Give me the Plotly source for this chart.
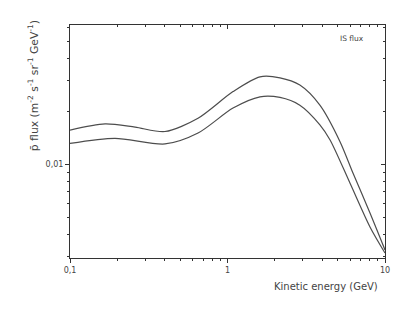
import plotly.graph_objects as go

# Data
energy_upper = [0.1, 0.167, 0.259, 0.401, 0.650, 1.084, 1.607, 2.154, 2.88, 3.86, 5.18, 6.26, 8.03, 10.0]
flux_upper = [0.0156, 0.0169, 0.0162, 0.0153, 0.0182, 0.0258, 0.0313, 0.0309, 0.0281, 0.0216, 0.0134, 0.00889, 0.00527, 0.00325]

energy_lower = [0.1, 0.193, 0.401, 0.650, 1.084, 1.607, 2.154, 2.88, 3.86, 4.48, 5.99, 8.03, 10.0]
flux_lower = [0.0131, 0.0140, 0.0130, 0.0150, 0.0208, 0.0241, 0.0239, 0.0216, 0.0167, 0.0137, 0.0078, 0.00439, 0.00312]

x_tickvals = [0.1, 1, 10]
x_ticktext = ["0,1", "1", "10"]
x_minor = [0.2, 0.3, 0.4, 0.5, 0.6, 0.7, 0.8, 0.9, 2, 3, 4, 5, 6, 7, 8, 9]
y_tickvals = [0.01]
y_ticktext = ["0,01"]
y_minor = [0.003, 0.004, 0.005, 0.006, 0.007, 0.008, 0.009, 0.02, 0.03, 0.04, 0.05, 0.06]

line_col = "#4d4d4d"
axis_col = "#333333"
text_col = "#444444"
xr = [-1, 1]
yr = [-2.534, -1.210]

fig = go.Figure()
fig.add_trace(go.Scatter(x=energy_upper, y=flux_upper, mode="lines",
                         line=dict(color=line_col, width=1.2, shape="spline", smoothing=0.8),
                         showlegend=False, hoverinfo="skip"))
fig.add_trace(go.Scatter(x=energy_lower, y=flux_lower, mode="lines",
                         line=dict(color=line_col, width=1.2, shape="spline", smoothing=0.8),
                         showlegend=False, hoverinfo="skip"))
# invisible trace for the mirrored axes
fig.add_trace(go.Scatter(x=[1], y=[0.01], xaxis="x2", yaxis="y2", mode="markers",
                         marker=dict(opacity=0), showlegend=False, hoverinfo="skip"))

common = dict(showgrid=False, zeroline=False, linecolor=axis_col, linewidth=1,
              tickcolor=axis_col, tickwidth=1, type="log")

fig.update_layout(
    width=415, height=319,
    margin=dict(l=62, r=38, t=17, b=69),
    paper_bgcolor="white", plot_bgcolor="white",
    font=dict(family="DejaVu Sans", color=text_col, size=8),
    xaxis=dict(**common, range=xr, showline=True, ticks="outside", ticklen=4,
               tickmode="array", tickvals=x_tickvals, ticktext=x_ticktext,
               minor=dict(tickmode="array", tickvals=x_minor, ticks="outside", ticklen=2,
                          tickcolor=axis_col),
               tickfont=dict(size=8, color=text_col)),
    yaxis=dict(**common, range=yr, showline=True, ticks="outside", ticklen=4,
               tickmode="array", tickvals=y_tickvals, ticktext=y_ticktext,
               minor=dict(tickmode="array", tickvals=y_minor, ticks="outside", ticklen=2,
                          tickcolor=axis_col),
               tickfont=dict(size=8, color=text_col)),
    xaxis2=dict(**common, range=xr, overlaying="x", side="top", showline=True,
                ticks="inside", ticklen=4, tickmode="array", tickvals=x_tickvals,
                showticklabels=False,
                minor=dict(tickmode="array", tickvals=x_minor, ticks="inside", ticklen=2,
                           tickcolor=axis_col)),
    yaxis2=dict(**common, range=yr, overlaying="y", side="right", showline=True,
                ticks="inside", ticklen=4, tickmode="array", tickvals=y_tickvals,
                showticklabels=False,
                minor=dict(tickmode="array", tickvals=y_minor, ticks="inside", ticklen=2,
                           tickcolor=axis_col)),
    annotations=[
        dict(text="Kinetic energy (GeV)", xref="paper", yref="paper", x=0.984, y=-0.124,
             xanchor="right", yanchor="middle", showarrow=False,
             font=dict(size=10, color=text_col)),
        dict(text="p\u0304 flux (m<sup>-2</sup> s<sup>-1</sup> sr<sup>-1</sup> GeV<sup>-1</sup>)",
             xref="paper", yref="paper", x=-0.117, y=0.738, textangle=-90,
             xanchor="center", yanchor="middle", showarrow=False,
             font=dict(size=10.8, color=text_col)),
        dict(text="IS flux", xref="paper", yref="paper", x=0.895, y=0.94,
             xanchor="center", yanchor="middle", showarrow=False,
             font=dict(size=7.5, color=text_col)),
    ],
)

fig.write_html("out.html")
